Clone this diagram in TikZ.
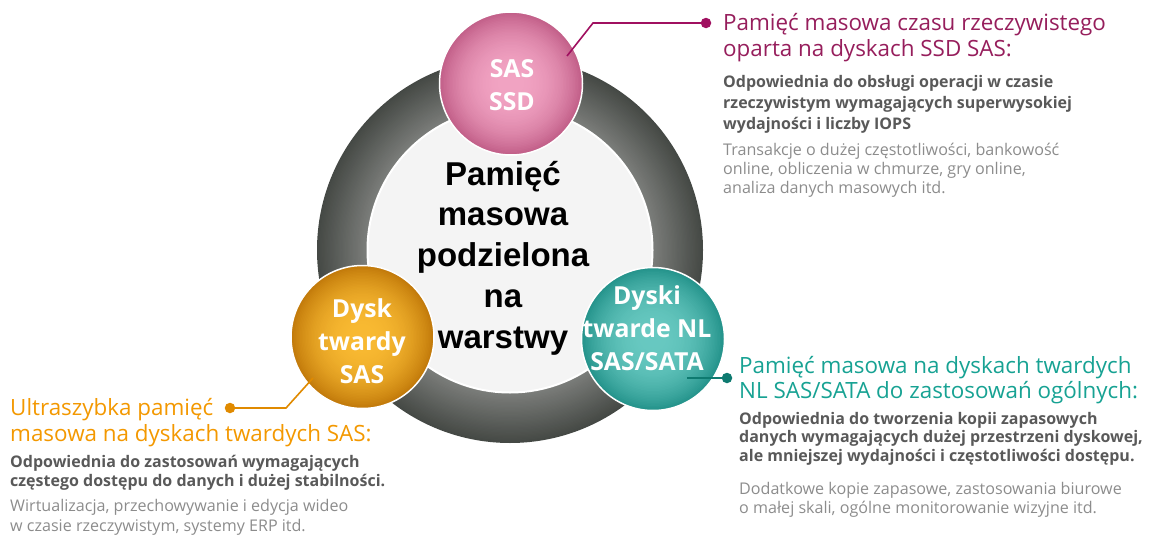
\documentclass[tikz,border=0pt]{standalone}
\usepackage{fontspec}
\setmainfont{Open Sans}
\newfontfamily\hubfont{Liberation Sans}

% palette
\definecolor{ringdark}{HTML}{454945}
\definecolor{ringlight}{HTML}{7D7F7C}
\definecolor{hubfill}{HTML}{F4F4F4}
\definecolor{ssdin}{HTML}{F2A4C3}
\definecolor{ssdout}{HTML}{C25F89}
\definecolor{sasin}{HTML}{F9BA32}
\definecolor{sasout}{HTML}{C27A0A}
\definecolor{nlin}{HTML}{68C9C1}
\definecolor{nlout}{HTML}{24938B}
\definecolor{ssdtitle}{HTML}{961E5C}
\definecolor{ssdline}{HTML}{A01060}
\definecolor{sastitle}{HTML}{F39800}
\definecolor{sasline}{HTML}{E08A00}
\definecolor{nltitle}{HTML}{17A293}
\definecolor{nlline}{HTML}{0E7A70}
\definecolor{boldgray}{HTML}{595959}
\definecolor{lightgray}{HTML}{8C8C8C}

% stacked lines; the box baseline is the first line's baseline
\newcommand\cstack[1]{\vtop{\lineskiplimit=-\maxdimen\halign{\hfil##\hfil\cr#1\crcr}}}
\newcommand\lstack[1]{\vtop{\lineskiplimit=-\maxdimen\halign{##\hfil\cr#1\crcr}}}

% radial gradient built from concentric discs: #1 centre, #2 radius (pt), #3 inner, #4 outer colour
\newcommand\gradball[4]{%
  \foreach \k in {0,...,47}{%
    \pgfmathsetmacro\rr{#2*(1-\k/48)}%
    \pgfmathtruncatemacro\pp{100*(1-(1-\k/48)^2.4)}%
    \fill[#3!\pp!#4] (#1) circle[radius=\rr pt];}}

\tikzset{
  tier/.style={circle, inner sep=0pt, minimum size=143pt, draw=white, line width=1.5pt},
  tierlabel/.style={anchor=base, inner sep=0pt, text=white,
    font=\fontsize{24.8}{33}\selectfont\bfseries},
  headtext/.style={anchor=base west, inner sep=0pt, font=\fontsize{22.4}{25.3}\selectfont},
  leadtext/.style={anchor=base west, inner sep=0pt, text=boldgray},
  bodytext/.style={anchor=base west, inner sep=0pt, text=lightgray},
  pin/.style={circle, inner sep=0pt, minimum size=10.5pt},
  leader/.style={line width=1.6pt},
}

\begin{document}
\begin{tikzpicture}[x=1pt,y=-1pt]
\useasboundingbox (0,0) rectangle (1152,538);

% ring band, light at the inner edge and dark at the outer edge
\coordinate (ringc) at (510,250);
\foreach \k in {0,...,40}{%
  \pgfmathsetmacro\rr{193-51*\k/40}%
  \pgfmathtruncatemacro\pp{100*\k/40}%
  \fill[ringlight!\pp!ringdark] (ringc) circle[radius=\rr pt];}
\node[circle, inner sep=0pt, outer sep=0pt, minimum size=386pt] (ring) at (ringc) {};
\node[circle, inner sep=0pt, minimum size=285pt, fill=hubfill, draw=white, line width=2pt] (hub) at (ring.center) {};
\node[anchor=base, inner sep=0pt, font=\hubfont\fontsize{33}{40.75}\selectfont\bfseries] (hubtext) at (503,185)
  {\cstack{Pamięć\cr masowa\cr podzielona\cr na\cr warstwy}};

% the three tiers
\coordinate (ssdc) at (511,83.5);
\coordinate (sasc) at (362.5,337);
\coordinate (nlc) at (653,339);
\gradball{ssdc}{71.5}{ssdin}{ssdout}
\gradball{sasc}{71.5}{sasin}{sasout}
\gradball{nlc}{71.5}{nlin}{nlout}
\node[tier] (ssd) at (ssdc) {};
\node[tier] (sas) at (sasc) {};
\node[tier] (nl) at (nlc) {};

\node[tierlabel] (ssdlabel) at (512,77.3) {\cstack{SAS\cr SSD}};
\node[tierlabel] (saslabel) at (362,317.3) {\cstack{Dysk\cr twardy\cr SAS}};
\node[tierlabel] (nllabel) at (647,304) {\cstack{Dyski\cr twarde NL\cr SAS/SATA}};

% leaders
\coordinate (ssdpin) at (567,56);
\coordinate (ssdbend) at (593,23);
\node[pin, fill=ssdline] (ssddot) at (706,23) {};
\draw[leader, ssdline] (ssdpin) -- (ssdbend) -- (ssddot.center);

\coordinate (saspin) at (313,378);
\coordinate (sasbend) at (286,408);
\node[pin, fill=sasline] (sasdot) at (230,408) {};
\draw[leader, sasline] (saspin) -- (sasbend) -- (sasdot.center);

\coordinate (nlpin) at (687,378);
\node[pin, fill=nlline] (nldot) at (727,378) {};
\draw[leader, nlline] (nlpin) -- (nldot.center);

% SSD description
\node[headtext, text=ssdtitle] (ssdhead) at (723,30.7)
  {\lstack{Pamięć masowa czasu rzeczywistego\cr oparta na dyskach SSD SAS:}};
\node[leadtext, font=\fontsize{16}{21}\selectfont\bfseries] (ssdlead) at (723,87.3)
  {\lstack{Odpowiednia do obsługi operacji w czasie\cr rzeczywistym wymagających superwysokiej\cr wydajności i liczby IOPS}};
\node[bodytext, font=\fontsize{16.1}{19.3}\selectfont] (ssdbody) at (723,155)
  {\lstack{Transakcje o dużej częstotliwości, bankowość\cr online, obliczenia w chmurze, gry online,\cr analiza danych masowych itd.}};

% NL SAS/SATA description
\node[headtext, text=nltitle] (nlhead) at (739,373.3)
  {\lstack{Pamięć masowa na dyskach twardych\cr NL SAS/SATA do zastosowań ogólnych:}};
\node[leadtext, font=\fontsize{16}{18.8}\selectfont\bfseries] (nllead) at (739,424)
  {\lstack{Odpowiednia do tworzenia kopii zapasowych\cr danych wymagających dużej przestrzeni dyskowej,\cr ale mniejszej wydajności i częstotliwości dostępu.}};
\node[bodytext, font=\fontsize{16.1}{19.3}\selectfont] (nlbody) at (739,494)
  {\lstack{Dodatkowe kopie zapasowe, zastosowania biurowe\cr o małej skali, ogólne monitorowanie wizyjne itd.}};

% SAS description
\node[headtext, text=sastitle, font=\fontsize{22.4}{26.7}\selectfont] (sashead) at (10,415)
  {\lstack{Ultraszybka pamięć\cr masowa na dyskach twardych SAS:}};
\node[leadtext, font=\fontsize{16}{19.4}\selectfont\bfseries] (saslead) at (10,467.3)
  {\lstack{Odpowiednia do zastosowań wymagających\cr częstego dostępu do danych i dużej stabilności.}};
\node[bodytext, font=\fontsize{16.1}{20}\selectfont] (sasbody) at (10,511.7)
  {\lstack{Wirtualizacja, przechowywanie i edycja wideo\cr w czasie rzeczywistym, systemy ERP itd.}};
\end{tikzpicture}
\end{document}
